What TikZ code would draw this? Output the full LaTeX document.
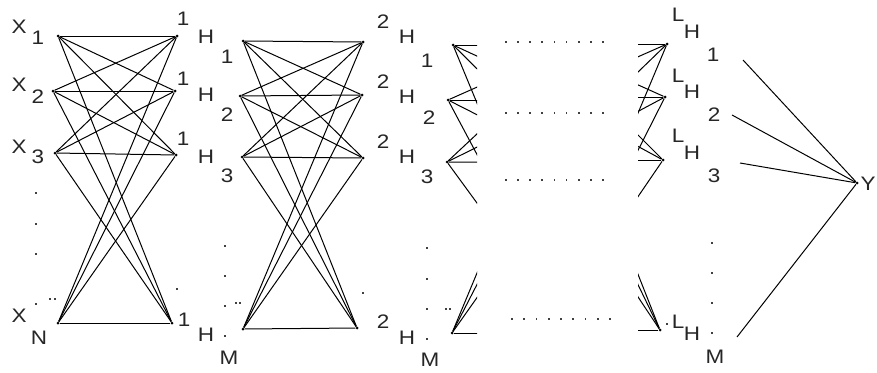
\documentclass[tikz,border=0pt]{standalone}
\usepackage{fontspec}
\setmainfont{Liberation Sans}
\newfontfamily\lblfont[FakeStretch=1.15,Scale=1.15]{Liberation Sans}
\begin{document}
\begin{tikzpicture}[x=1pt,y=-1pt,
  nd/.style={circle,fill=black,inner sep=0pt,minimum size=3pt},
  lab/.style={font={\fontsize{17}{17}\lblfont},inner sep=0pt,text=black!85},
  cn/.style={line width=1pt,black},
  pt/.style={rectangle,fill=black!75,inner sep=0pt,minimum size=1.8pt}]
\useasboundingbox (0,0) rectangle (877,372);
% ---- neuron columns ----
\node[nd] (a1) at (58,36) {};  \node[nd] (a2) at (53,91) {};
\node[nd] (a3) at (55,153) {}; \node[nd] (a4) at (58,323) {};
\node[nd] (b1) at (177,36) {}; \node[nd] (b2) at (175,91) {};
\node[nd] (b3) at (176,155) {};\node[nd] (b4) at (172,323) {};
\node[nd] (c1) at (243,41) {}; \node[nd] (c2) at (240,96) {};
\node[nd] (c3) at (242,157) {};\node[nd] (c4) at (243,329) {};
\node[nd] (d1) at (363,42) {}; \node[nd] (d2) at (362,95) {};
\node[nd] (d3) at (363,158) {};\node[nd] (d4) at (357,328) {};
\node[nd] (e1) at (453,45) {}; \node[nd] (e2) at (448,100) {};
\node[nd] (e3) at (447,162) {};\node[nd] (e4) at (452,333) {};
\coordinate (f1) at (572,45); \coordinate (f2) at (572,100);
\coordinate (f3) at (572,163); \coordinate (f4) at (572,333);
\coordinate (g1) at (547,44); \coordinate (g2) at (547,97);
\coordinate (g3) at (547,160); \coordinate (g4) at (547,330);
\node[nd] (h1) at (667,44) {}; \node[nd] (h2) at (665,97) {};
\node[nd] (h3) at (663,160) {};\node[nd] (h4) at (660,330) {};
\node[nd] (y) at (857,183) {};
\coordinate (s1) at (743,60); \coordinate (s2) at (732,115);
\coordinate (s3) at (740,163); \coordinate (s4) at (737,337);
% ---- connections ----
\foreach \i in {1,...,4}{\foreach \j in {1,...,4}{
  \draw[cn] (a\i) -- (b\j);
  \draw[cn] (c\i) -- (d\j);}}
\begin{scope}
  \clip (430,0) rectangle (477,372);
  \foreach \i in {1,...,4}{\foreach \j in {1,...,4}{\draw[cn] (e\i) -- (f\j);}}
\end{scope}
\begin{scope}
  \clip (638,0) rectangle (690,372);
  \foreach \i in {1,...,4}{\foreach \j in {1,...,4}{\draw[cn] (g\i) -- (h\j);}}
\end{scope}
\foreach \i in {1,...,4}{\draw[cn] (s\i) -- (y);}
% ---- labels ----
\node[lab] (lx1) at (19,27) {X}; \node[lab] (ln1) at (38,38) {1};
\node[lab] (lx2) at (19,85) {X}; \node[lab] (ln2) at (38,97) {2};
\node[lab] (lx3) at (19,147) {X};\node[lab] (ln3) at (38,157) {3};
\node[lab] (lx4) at (19,316) {X};\node[lab] (ln4) at (39,338) {N};
%
\node[lab] (p11) at (183,19) {1}; \node[lab] (p12) at (206,37) {H}; \node[lab] (p13) at (227,57) {1};
\node[lab] (p21) at (183,79) {1}; \node[lab] (p22) at (206,95) {H}; \node[lab] (p23) at (227,115) {2};
\node[lab] (p31) at (183,139) {1};\node[lab] (p32) at (206,157) {H};\node[lab] (p33) at (227,176) {3};
\node[lab] (p41) at (184,320) {1};\node[lab] (p42) at (206,335) {H};\node[lab] (p43) at (229,358) {M};
%
\node[lab] (q11) at (383,22) {2}; \node[lab] (q12) at (407,37) {H}; \node[lab] (q13) at (427,61) {1};
\node[lab] (q21) at (383,82) {2}; \node[lab] (q22) at (407,97) {H}; \node[lab] (q23) at (429,118) {2};
\node[lab] (q31) at (383,142) {2};\node[lab] (q32) at (407,157) {H};\node[lab] (q33) at (427,177) {3};
\node[lab] (q41) at (383,322) {2};\node[lab] (q42) at (407,338) {H};\node[lab] (q43) at (430,360) {M};
%
\node[lab] (r11) at (678,15) {L}; \node[lab] (r12) at (692,32) {H}; \node[lab] (r13) at (713,55) {1};
\node[lab] (r21) at (678,76) {L}; \node[lab] (r22) at (692,92) {H}; \node[lab] (r23) at (714,115) {2};
\node[lab] (r31) at (678,136) {L};\node[lab] (r32) at (692,153) {H};\node[lab] (r33) at (714,176) {3};
\node[lab] (r41) at (678,322) {L};\node[lab] (r42) at (692,334) {H};\node[lab] (r43) at (715,357) {M};
\node[lab] (ly) at (868,184) {Y};
% ---- dots ----
\foreach \yy [count=\k] in {193,224,254,304}{\node[pt] (dx\k) at (36,\yy) {};}
\node[pt] (dxa) at (50,299) {}; \node[pt] (dxb) at (55,299) {};
\foreach \yy [count=\k] in {246,276,306,336}{\node[pt] (dh\k) at (225,\yy) {};}
\node[pt] (dha) at (236,303) {}; \node[pt] (dhb) at (240,303) {};
\node[pt] (dhs) at (177,289) {};
\foreach \yy [count=\k] in {248,279,309,339}{\node[pt] (dk\k) at (427,\yy) {};}
\node[pt] (dka) at (446,309) {}; \node[pt] (dkb) at (450,309) {};
\node[pt] (dks) at (363,293) {};
\foreach \yy [count=\k] in {243,273,303,333}{\node[pt] (dl\k) at (712,\yy) {};}
\node[pt] (dls) at (667,324) {};
\foreach \row/\yy in {1/42,2/113,3/180}{
  \foreach \k in {0,...,8}{\node[pt] (rw\row-\k) at ({506+12.1*\k},\yy) {};}}
\foreach \k in {0,...,8}{\node[pt] (rw4-\k) at ({512+12.25*\k},319) {};}
\end{tikzpicture}
\end{document}
